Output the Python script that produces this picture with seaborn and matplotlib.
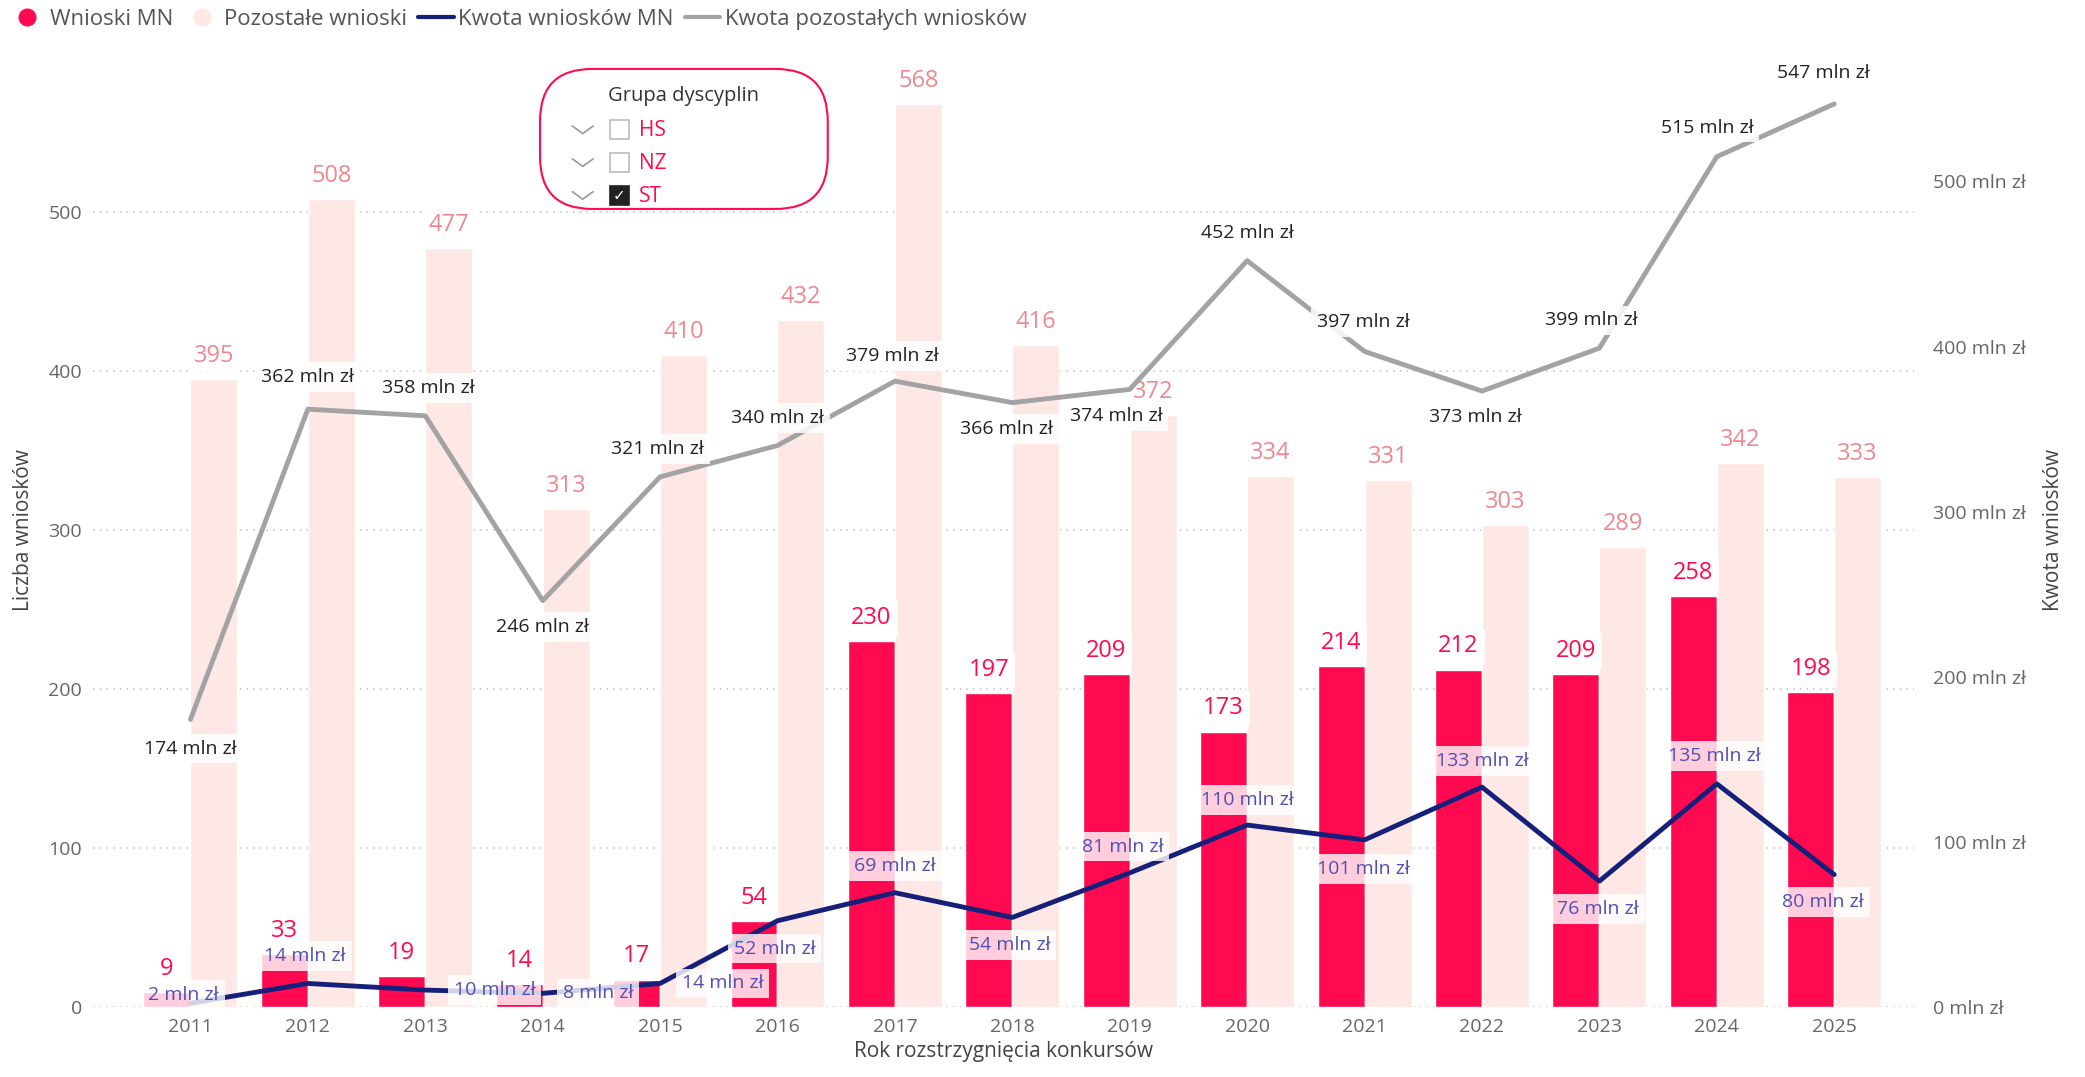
import numpy as np
import pandas as pd
import seaborn as sns
import matplotlib.pyplot as plt
from matplotlib.patches import FancyBboxPatch, Rectangle
from matplotlib.lines import Line2D

# dane
years = [str(y) for y in range(2011, 2026)]
wnioski_mn = [9, 33, 19, 14, 17, 54, 230, 197, 209, 173, 214, 212, 209, 258, 198]
pozostale = [395, 508, 477, 313, 410, 432, 568, 416, 372, 334, 331, 303, 289, 342, 333]
kwota_mn = [2, 14, 10, 8, 14, 52, 69, 54, 81, 110, 101, 133, 76, 135, 80]
kwota_poz = [174, 362, 358, 246, 321, 340, 379, 366, 374, 452, 397, 373, 399, 515, 547]
grupy = ["HS", "NZ", "ST"]
zaznaczone = [False, False, True]

# przesunięcia etykiet linii (pt)
off_poz = [(0, -21), (0, 23), (2, 20), (0, -19), (-2, 20), (0, 20), (-2, 18), (-4, -19),
           (-10, -19), (0, 20), (-1, 21), (-5, -19), (-6, 20), (-7, 21), (-8, 22)]
off_mn = [(-5, 6), (-2, 20), (50, 0), (40, 0), (45, 0), (-2, -20), (0, 19), (-2, -20),
          (-5, 19), (0, 18), (-1, -21), (0, 19), (-1, -20), (-2, 20), (-8, -20)]

RED = "#FF0A50"
PINK = "#FDE8E6"
PINK_TXT = "#EE8890"
NAVY = "#16207A"
GREY = "#A3A3A3"
BLUE_TXT = "#5050B4"

sns.set_theme(style="white")
plt.rcParams["font.family"] = ["Open Sans", "DejaVu Sans"]

df = pd.DataFrame({"rok": years * 2,
                   "liczba": wnioski_mn + pozostale,
                   "typ": ["Wnioski MN"] * len(years) + ["Pozostałe wnioski"] * len(years)})

fig = plt.figure(figsize=(20.85, 10.77), dpi=100)
ax = fig.add_axes([0.0446, 0.0654, 0.8734, 0.8856])

sns.barplot(data=df, x="rok", y="liczba", hue="typ", palette=[RED, PINK],
            width=0.8, saturation=1, ax=ax, legend=False)

ax.set_xlim(-0.83, 14.68)
ax.set_ylim(0, 600)
ax.set_yticks(range(0, 501, 100))
ax.grid(axis="y", linestyle=(0, (1, 3)), color="#C8C8C8", lw=1.2)
ax.set_axisbelow(True)
for s in ax.spines.values():
    s.set_visible(False)
ax.tick_params(axis="both", length=0, labelsize=14, labelcolor="#666666", pad=8)
ax.set_xlabel("Rok rozstrzygnięcia konkursów", fontsize=15, color="#444444", labelpad=4)
ax.set_ylabel("Liczba wniosków", fontsize=15, color="#444444", labelpad=10)

# etykiety słupków
for i, v in enumerate(wnioski_mn):
    ax.annotate(str(v), (i - 0.2, v), xytext=(0, 8), textcoords="offset points",
                ha="center", va="bottom", fontsize=17, color=RED,
                bbox=dict(boxstyle="square,pad=0.25", fc="white", ec="none", alpha=0.85))
for i, v in enumerate(pozostale):
    ax.annotate(str(v), (i + 0.2, v), xytext=(0, 8), textcoords="offset points",
                ha="center", va="bottom", fontsize=17, color=PINK_TXT,
                bbox=dict(boxstyle="square,pad=0.25", fc="white", ec="none", alpha=0.85))

# druga oś
ax2 = ax.twinx()
x = np.arange(len(years))
sns.lineplot(x=x, y=kwota_poz, color=GREY, lw=3.5, ax=ax2)
sns.lineplot(x=x, y=kwota_mn, color=NAVY, lw=3.5, ax=ax2)
ax2.set_xlim(-0.83, 14.68)
ax2.set_ylim(0, 578)
ax2.set_yticks(range(0, 501, 100))
ax2.set_yticklabels([f"{t} mln zł" for t in range(0, 501, 100)])
ax2.tick_params(axis="y", length=0, labelsize=14, labelcolor="#666666", pad=14)
for s in ax2.spines.values():
    s.set_visible(False)
ax2.set_ylabel("Kwota wniosków", fontsize=15, color="#444444", labelpad=12)

for i, v in enumerate(kwota_poz):
    ax2.annotate(f"{v} mln zł", (i, v), xytext=off_poz[i], textcoords="offset points",
                 ha="center", va="center", fontsize=14, color="#222222",
                 bbox=dict(boxstyle="square,pad=0.3", fc="white", ec="none", alpha=0.85))
for i, v in enumerate(kwota_mn):
    ax2.annotate(f"{v} mln zł", (i, v), xytext=off_mn[i], textcoords="offset points",
                 ha="center", va="center", fontsize=14, color=BLUE_TXT,
                 bbox=dict(boxstyle="square,pad=0.3", fc="white", ec="none", alpha=0.8))

# legenda
handles = [Line2D([], [], marker="o", ls="none", color=RED, markersize=12),
           Line2D([], [], marker="o", ls="none", color=PINK, markersize=12),
           Line2D([], [], color=NAVY, lw=3),
           Line2D([], [], color=GREY, lw=3)]
labels = ["Wnioski MN", "Pozostałe wnioski", "Kwota wniosków MN", "Kwota pozostałych wniosków"]
fig.legend(handles, labels, loc="upper left", bbox_to_anchor=(-0.005, 1.01), ncol=4,
           frameon=False, fontsize=16, labelcolor="#555555", handlelength=1.6,
           handletextpad=0.2, columnspacing=0.5)

# fragmentator "Grupa dyscyplin"
box = FancyBboxPatch((0.259, 0.806), 0.138, 0.130, boxstyle="round,pad=0,rounding_size=0.025",
                     transform=fig.transFigure, fc="white", ec=RED, lw=1.5,
                     mutation_aspect=2085 / 1077)
fig.patches.append(box)
fig.text(0.328, 0.911, "Grupa dyscyplin", ha="center", va="center", fontsize=14.5, color="#333333")
for k, (g, zazn) in enumerate(zip(grupy, zaznaczone)):
    yc = 0.879 - k * 0.0305
    fig.lines.append(Line2D([0.2745, 0.2795, 0.2845], [yc + 0.004, yc - 0.003, yc + 0.004],
                            transform=fig.transFigure, color="#999999", lw=1.2))
    fig.patches.append(Rectangle((0.2925, yc - 0.0085), 0.0092, 0.0178, transform=fig.transFigure,
                                 fc="#222222" if zazn else "white",
                                 ec="#222222" if zazn else "#BBBBBB", lw=1.2))
    if zazn:
        fig.text(0.2971, yc, "✓", ha="center", va="center", fontsize=11, color="white",
                 family="DejaVu Sans")
    fig.text(0.3065, yc, g, ha="left", va="center", fontsize=15, color=RED)

fig.savefig("out.png", dpi=100, facecolor="white")
